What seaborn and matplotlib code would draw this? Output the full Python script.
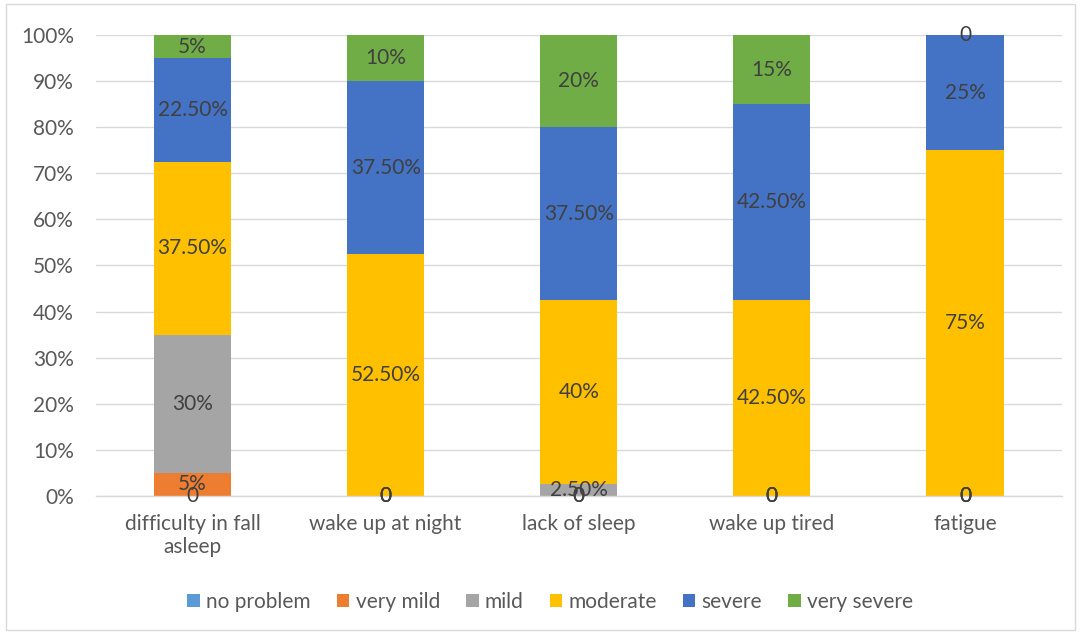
import matplotlib
matplotlib.use("Agg")
import matplotlib.pyplot as plt
import seaborn as sns
import numpy as np
from matplotlib.patches import Rectangle

categories = ["difficulty in fall\nasleep", "wake up at night", "lack of sleep", "wake up tired", "fatigue"]
levels = ["no problem", "very mild", "mild", "moderate", "severe", "very severe"]

no_problem = [0, 0, 0, 0, 0]
very_mild = [5, 0, 0, 0, 0]
mild = [30, 0, 2.5, 0, 0]
moderate = [37.5, 52.5, 40, 42.5, 75]
severe = [22.5, 37.5, 37.5, 42.5, 25]
very_severe = [5, 10, 20, 15, 0]

series = [no_problem, very_mild, mild, moderate, severe, very_severe]
colors = ["#5B9BD5", "#ED7D31", "#A5A5A5", "#FFC000", "#4472C4", "#70AD47"]

sns.set_theme(style="white")
plt.rcParams["font.family"] = ["Lato", "DejaVu Sans"]

FS = 15

fig = plt.figure(figsize=(10.81, 6.34), dpi=100)
ax = fig.add_axes([0.0888, 0.2177, 0.8932, 0.7271])

# light frame around the whole chart
fig.patches.append(Rectangle((0.006, 0.006), 0.988, 0.988, transform=fig.transFigure,
                             fill=False, edgecolor="#D9D9D9", linewidth=1.0))


def label_text(v):
    if v == 0:
        return "0"
    if float(v).is_integer():
        return f"{int(v)}%"
    return f"{v:.2f}%"


bottom = np.zeros(len(categories))
for name, vals, col in zip(levels, series, colors):
    vals = np.array(vals, dtype=float)
    sns.barplot(x=categories, y=vals, bottom=bottom, color=col, width=0.4,
                label=name, ax=ax, saturation=1, edgecolor="none", linewidth=0)
    for i, v in enumerate(vals):
        ax.text(i, bottom[i] + v / 2, label_text(v), ha="center", va="center",
                fontsize=FS, color="#404040")
    bottom = bottom + vals

ax.set_ylim(0, 100)
ax.set_xlim(-0.5, len(categories) - 0.5)
ax.set_yticks(np.arange(0, 101, 10))
ax.set_yticklabels([f"{t}%" for t in range(0, 101, 10)])
ax.yaxis.grid(True, color="#D9D9D9", linewidth=1)
ax.set_axisbelow(True)
for s in ["left", "right", "top"]:
    ax.spines[s].set_visible(False)
ax.spines["bottom"].set_color("#D9D9D9")
ax.spines["bottom"].set_linewidth(1)
ax.tick_params(axis="both", length=0, labelsize=FS, labelcolor="#595959")
ax.tick_params(axis="y", pad=16)
ax.tick_params(axis="x", pad=13)
ax.set_xlabel("")
ax.set_ylabel("")

handles, labs = ax.get_legend_handles_labels()
if ax.get_legend() is not None:
    ax.get_legend().remove()
fig.legend(handles, labs, loc="center", bbox_to_anchor=(0.509, 0.051), ncol=6,
           frameon=False, fontsize=FS, labelcolor="#595959", handlelength=0.6,
           handleheight=0.6, handletextpad=0.3, columnspacing=1.25)

fig.savefig("out.png", dpi=100)
